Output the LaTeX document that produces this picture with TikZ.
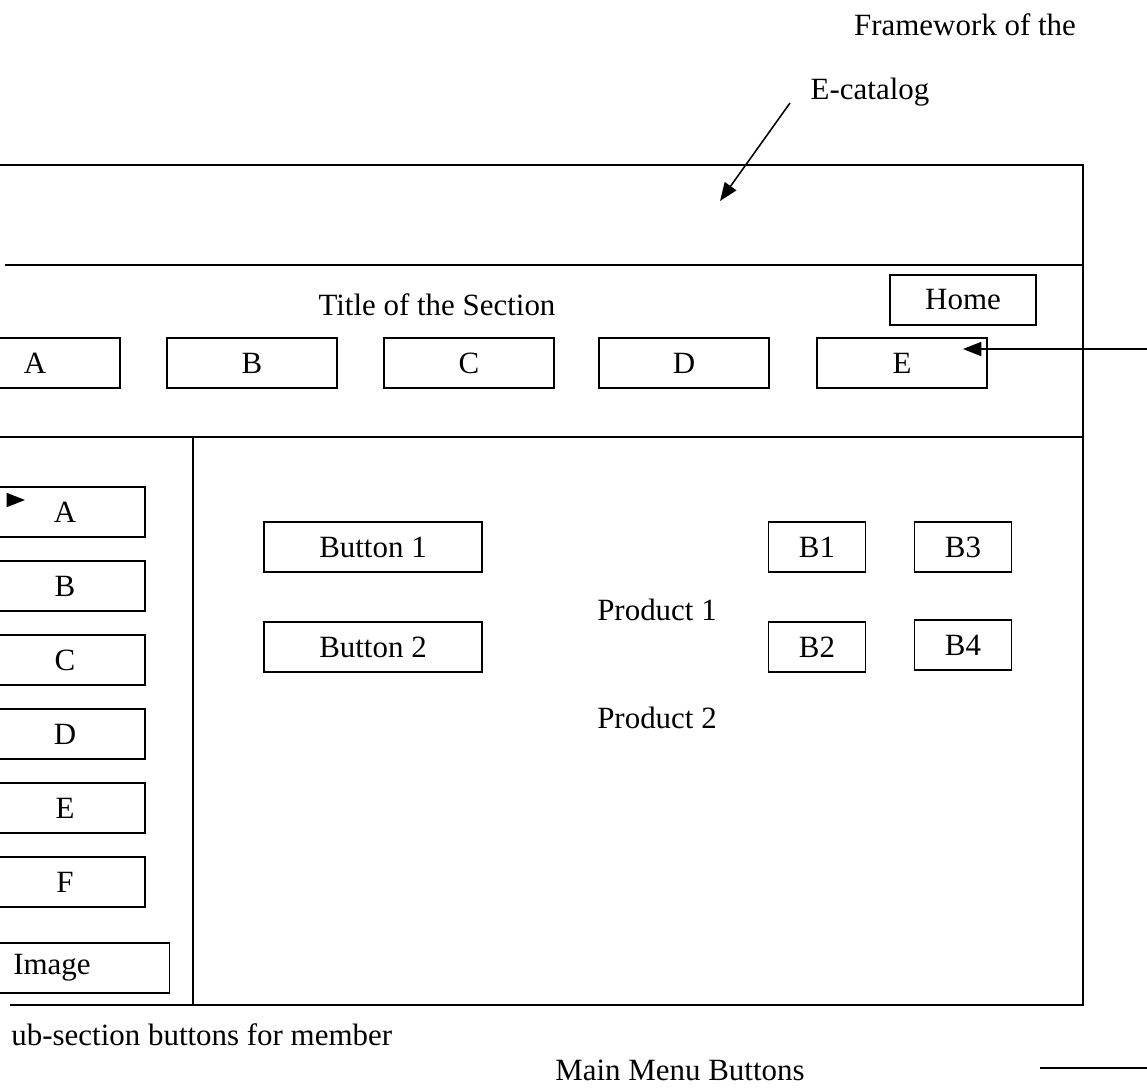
\documentclass[tikz,border=0pt]{standalone}
\usepackage{fontspec}
\setmainfont{Liberation Serif}
\usetikzlibrary{arrows.meta}

\begin{document}
\begin{tikzpicture}[x=0.025cm, y=-0.025cm, line width=1.1pt,
    every node/.style={font=\fontsize{22}{26}\selectfont},
    btn/.style={draw, minimum height=1.25cm, inner sep=0pt, text centered},
    menubtn/.style={btn, minimum width=4.25cm},
    sidebtn/.style={btn, minimum width=4cm},
    wide/.style={btn, minimum width=5.45cm},
    small/.style={btn, minimum width=2.425cm},
    msg/.style={-{Triangle[length=13pt,width=10pt]}}]

  \clip (0,0) rectangle (1147,1088);

  % frame of the page
  \draw (0,165) -- (1083,165) -- (1083,1005) -- (10,1005);
  \draw (5,265) -- (1083,265);
  \draw (0,437) -- (1083,437);
  \draw (193,437) -- (193,1005);

  \node (frameTxt) at (965,25) {Framework of the};
  \node (ecatTxt)  at (870,92) {E-catalog};
  \node (title)    at (437,305) {Title of the Section};

  \node[btn, minimum width=3.65cm] (home) at (963,300) {Home};
  \node[menubtn] (topA) at (35,363)  {A};
  \node[menubtn] (topB) at (252,363) {B};
  \node[menubtn] (topC) at (469,363) {C};
  \node[menubtn] (topD) at (684,363) {D};
  \node[menubtn] (topE) at (902,363) {E};

  \node[sidebtn] (sideA) at (65,512) {A};
  \node[sidebtn] (sideB) at (65,586) {B};
  \node[sidebtn] (sideC) at (65,660) {C};
  \node[sidebtn] (sideD) at (65,734) {D};
  \node[sidebtn] (sideE) at (65,808) {E};
  \node[sidebtn] (sideF) at (65,882) {F};
  \node[btn, minimum width=5.875cm] (image) at (52,968) {Image};

  \node[wide]  (btnOne) at (373,547) {Button 1};
  \node[wide]  (btnTwo) at (373,647) {Button 2};
  \node[small] (bOne)   at (817,547) {B1};
  \node[small] (bThree) at (963,547) {B3};
  \node[small] (bTwo)   at (817,647) {B2};
  \node[small] (bFour)  at (963,645) {B4};

  \node (prodOne) at (657,610) {Product 1};
  \node (prodTwo) at (657,718) {Product 2};

  \node[anchor=west] (subTxt) at (6,1035) {ub-section buttons for member};
  \node (menuTxt) at (680,1070) {Main Menu Buttons};

  % pointers
  \coordinate (catFrom)  at (790,103);
  \coordinate (catTip)   at (720,201);
  \coordinate (menuFrom) at (1160,349);
  \coordinate (menuTip)  at (963,349);
  \coordinate (sideFrom) at (7,500);
  \coordinate (sideTip)  at (25,500);
  \coordinate (lineFrom) at (1040,1068);
  \coordinate (lineTo)   at (1160,1068);

  \draw[msg] (catFrom) -- (catTip);
  \draw[msg] (menuFrom) -- (menuTip);
  \draw[msg] (sideFrom) -- (sideTip);
  \draw (lineFrom) -- (lineTo);
\end{tikzpicture}
\end{document}
